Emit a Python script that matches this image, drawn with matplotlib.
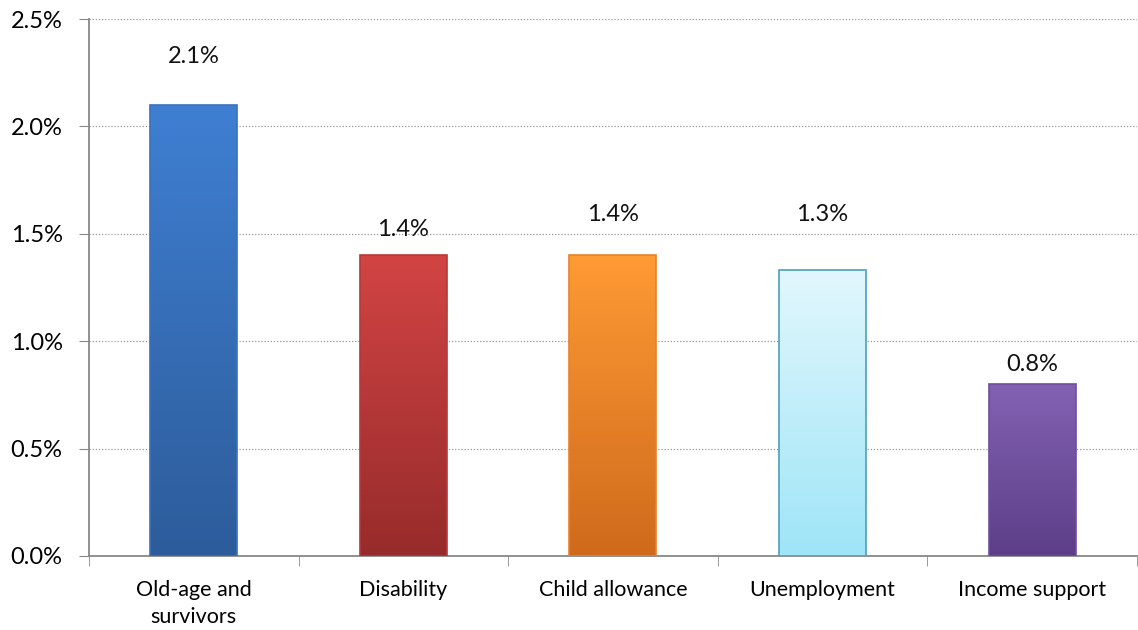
import matplotlib
matplotlib.use("Agg")
import matplotlib.pyplot as plt
import numpy as np
from matplotlib.colors import LinearSegmentedColormap

categories = ["Old-age and\nsurvivors", "Disability", "Child allowance", "Unemployment", "Income support"]
values = [2.1, 1.4, 1.4, 1.33, 0.8]
value_labels = ["2.1%", "1.4%", "1.4%", "1.3%", "0.8%"]
yticks = [0.0, 0.5, 1.0, 1.5, 2.0, 2.5]
ytick_labels = ["0.0%", "0.5%", "1.0%", "1.5%", "2.0%", "2.5%"]

# gradient colours (top, bottom) and edge colour per bar
grad_top = ["#3f7fd2", "#d24444", "#ff9a35", "#e2f7fd", "#8262b2"]
grad_bot = ["#2d5c9a", "#972b2b", "#cf6a1c", "#9ee5f7", "#5c3e88"]
edges = ["#3a72bb", "#b83838", "#e8822a", "#4c9fbd", "#6e4f9e"]
# label centre offsets above bar top (points)
label_offsets = [34.6, 18.7, 29.5, 40.3, 14.4]

plt.rcParams['font.family'] = ['Lato', 'DejaVu Sans']
fig = plt.figure(figsize=(11.38, 6.3), dpi=100)
ax = fig.add_axes([0.0782, 0.1175, 0.9208, 0.8523])

x = np.arange(len(categories))
bars = ax.bar(x, values, width=0.415, color="none", edgecolor="none", zorder=3)
grad = np.linspace(1, 0, 256).reshape(-1, 1)
for b, ct, cb, ec in zip(bars, grad_top, grad_bot, edges):
    cmap = LinearSegmentedColormap.from_list("g", [cb, ct])
    x0, y0 = b.get_x(), b.get_y()
    w, h = b.get_width(), b.get_height()
    im = ax.imshow(grad, cmap=cmap, extent=[x0, x0 + w, y0, y0 + h],
                   aspect="auto", zorder=3, origin="upper", vmin=0, vmax=1)
    im.set_clip_path(b)
    b.set_edgecolor(ec)
    b.set_linewidth(1.2)
    b.set_zorder(4)

for xi, v, lab, off in zip(x, values, value_labels, label_offsets):
    ax.annotate(lab, (xi, v), xytext=(0, off), textcoords="offset points",
                ha="center", va="center", fontsize=17, color="#111111")

ax.set_xlim(-0.5, len(categories) - 0.5)
ax.set_ylim(0, 2.5)
ax.set_yticks(yticks)
ax.set_yticklabels(ytick_labels, fontsize=17)
ax.set_xticks(x)
ax.set_xticklabels(categories, fontsize=15.5, linespacing=1.45)
ax.tick_params(axis="x", length=0, pad=17)
ax.set_xticks(np.arange(len(categories) + 1) - 0.5, minor=True)
ax.tick_params(axis="x", which="minor", length=7, color="#888888", direction="out")
ax.tick_params(axis="y", length=7, color="#888888", pad=12)
ax.yaxis.grid(True, linestyle=(0, (1, 1.5)), color="#999999", linewidth=0.9, zorder=0)
ax.set_axisbelow(True)
for s in ["top", "right"]:
    ax.spines[s].set_visible(False)
for s in ["left", "bottom"]:
    ax.spines[s].set_color("#888888")
    ax.spines[s].set_linewidth(1.3)

fig.savefig("out.png", dpi=100)
